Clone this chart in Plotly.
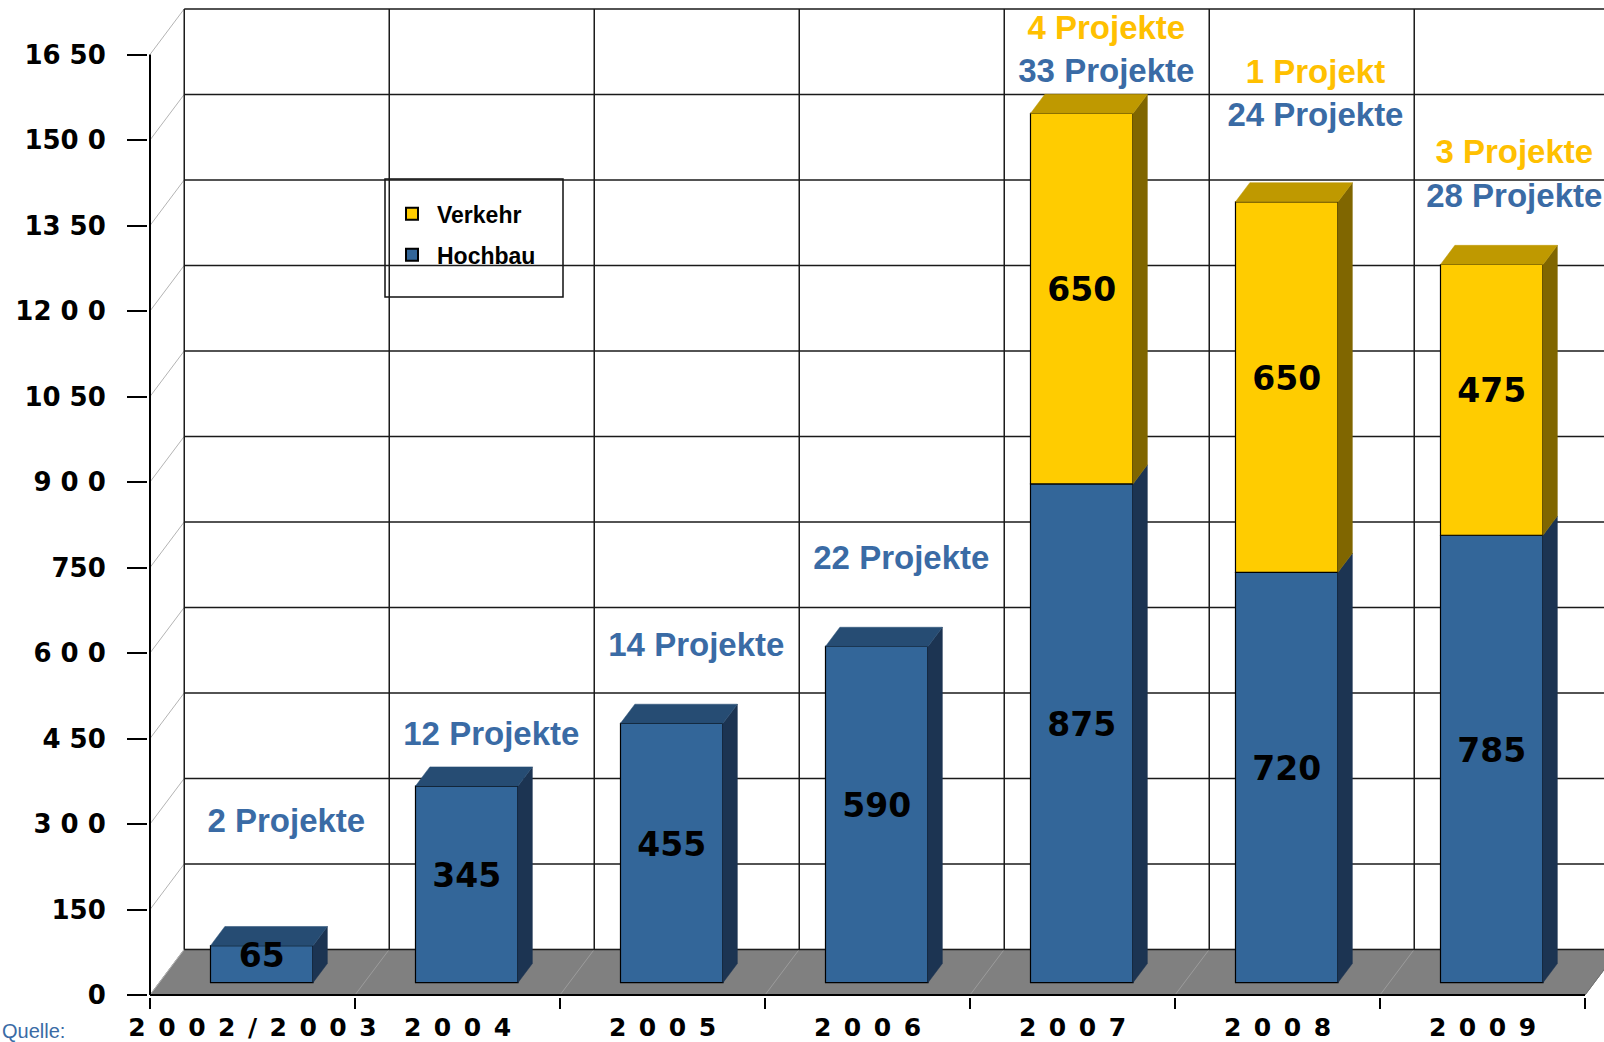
import plotly.graph_objects as go

# ---------------- data ----------------
CATEGORIES = ["2002/2003", "2004", "2005", "2006", "2007", "2008", "2009"]
HOCHBAU = [65, 345, 455, 590, 875, 720, 785]
VERKEHR = [0, 0, 0, 0, 650, 650, 475]
HOCHBAU_PROJEKTE = ["2 Projekte", "12 Projekte", "14 Projekte", "22 Projekte",
                    "33 Projekte", "24 Projekte", "28 Projekte"]
VERKEHR_PROJEKTE = ["", "", "", "", "4 Projekte", "1 Projekt", "3 Projekte"]
Y_TICK_VALUES = [0, 150, 300, 450, 600, 750, 900, 1050, 1200, 1350, 1500, 1650]
Y_TICK_LABELS = ["0", "150", "3 0 0", "4 50", "6 0 0", "750", "9 0 0",
                 "10 50", "12 0 0", "13 50", "150 0", "16 50"]

# label placement (value units on the front plane)
HB_LABEL_Y = [300, 453, 609, 761, 1616, 1539, 1397]
VK_LABEL_Y = [None, None, None, None, 1691, 1614, 1474]
LABEL_DX = [0.165, 0.165, 0.165, 0.165, 0.165, 0.185, 0.155]

# ---------------- styling / geometry ----------------
W, H = 1604, 1042
ML, MB = 148, 45
PX_PER_CAT = 205.0
PX_PER_UNIT = 0.570
X_FRONT_PX = 150
ZERO_PX = 995

DX, DY = 0.167, 80.0      # oblique depth offset (category units, value units)
FD, BD, BW = 0.27, 0.42, 0.5  # bar front depth, bar depth, bar width

HB_FRONT, HB_TOP, HB_SIDE = "#336699", "#264C73", "#1C3452"
VK_FRONT, VK_TOP, VK_SIDE = "#FFCC00", "#BF9900", "#806600"
BLUE_TXT, YELLOW_TXT = "#3A6BA5", "#FFC000"
LBL_FONT = "Liberation Sans, Arial"

# legend box (pixels)
LEG_X0, LEG_X1, LEG_Y0, LEG_Y1 = 385, 563, 179, 297

n = len(CATEGORIES)
x_start = -0.5 - (X_FRONT_PX - ML) / PX_PER_CAT
x_end = x_start + (W - ML) / PX_PER_CAT
y_start = -((H - MB) - ZERO_PX) / PX_PER_UNIT
y_end = y_start + (H - MB) / PX_PER_UNIT
left, right = -0.5, n - 0.5
boundaries = [i - 0.5 for i in range(n + 1)]
top_val = Y_TICK_VALUES[-1]
PW, PH = W - ML, H - MB


def px_x(p):
    return (p - ML) / PW


def px_y(p):
    return 1 - p / PH


fig = go.Figure()

# ---------------- floor and walls (shapes below traces) ----------------
shapes = []
shapes.append(dict(type="path", xref="x", yref="y", layer="below",
                   path=f"M {left},0 L {right},0 L {right + DX},{DY} L {left + DX},{DY} Z",
                   fillcolor="#808080", line=dict(color="#808080", width=1)))
for b in boundaries[1:-1]:
    shapes.append(dict(type="line", xref="x", yref="y", layer="below",
                       x0=b, y0=0, x1=b + DX, y1=DY, line=dict(color="#9C9C9C", width=1)))
for v in Y_TICK_VALUES:
    shapes.append(dict(type="line", xref="x", yref="y", layer="below",
                       x0=left, y0=v, x1=left + DX, y1=v + DY,
                       line=dict(color="#B4B4B4", width=1)))
for v in Y_TICK_VALUES:
    shapes.append(dict(type="line", xref="x", yref="y", layer="below",
                       x0=left + DX, y0=v + DY, x1=x_end + 1, y1=v + DY,
                       line=dict(color="#1A1A1A", width=1.5)))
for b in boundaries:
    shapes.append(dict(type="line", xref="x", yref="y", layer="below",
                       x0=b + DX, y0=DY, x1=b + DX, y1=top_val + DY,
                       line=dict(color="#1A1A1A", width=1.5)))
shapes.append(dict(type="line", xref="x", yref="y", layer="below",
                   x0=right, y0=0, x1=right + DX, y1=DY, line=dict(color="#707070", width=1)))
shapes.append(dict(type="line", xref="x", yref="y", layer="below",
                   x0=left, y0=0, x1=right, y1=0, line=dict(color="black", width=2)))
shapes.append(dict(type="line", xref="x", yref="y", layer="below",
                   x0=left, y0=0, x1=left, y1=top_val, line=dict(color="black", width=2)))
# legend frame
shapes.append(dict(type="rect", xref="paper", yref="paper", layer="below",
                   x0=px_x(LEG_X0), x1=px_x(LEG_X1), y0=px_y(LEG_Y1), y1=px_y(LEG_Y0),
                   fillcolor="white", line=dict(color="#111111", width=1.5)))

# ---------------- bars ----------------
fx = FD * DX
fy = FD * DY
bx, by = BD * DX, BD * DY
hb_x = [i + fx for i in range(n)]
vk_idx = [i for i in range(n) if VERKEHR[i] > 0]

fig.add_trace(go.Bar(x=hb_x, y=HOCHBAU, base=[fy] * n, width=BW,
                     marker=dict(color=HB_FRONT, line=dict(color="black", width=1.2)),
                     showlegend=False, hoverinfo="skip", name="Hochbau"))
fig.add_trace(go.Bar(x=[hb_x[i] for i in vk_idx], y=[VERKEHR[i] for i in vk_idx],
                     base=[HOCHBAU[i] + fy for i in vk_idx], width=BW,
                     marker=dict(color=VK_FRONT, line=dict(color="black", width=1.2)),
                     showlegend=False, hoverinfo="skip", name="Verkehr"))


def poly_trace(xs, ys, color):
    return go.Scatter(x=xs, y=ys, mode="lines", fill="toself", fillcolor=color,
                      line=dict(color=color, width=0.5), showlegend=False, hoverinfo="skip")


for i in range(n):
    segs = [(0, HOCHBAU[i], HB_SIDE, HB_TOP)]
    if VERKEHR[i] > 0:
        segs.append((HOCHBAU[i], HOCHBAU[i] + VERKEHR[i], VK_SIDE, VK_TOP))
    xl, xr = hb_x[i] - BW / 2, hb_x[i] + BW / 2
    for k, (b0, t0, side_c, top_c) in enumerate(segs):
        fig.add_trace(poly_trace(
            [xr, xr + bx, xr + bx, xr, xr],
            [b0 + fy, b0 + fy + by, t0 + fy + by, t0 + fy, b0 + fy], side_c))
        if k == len(segs) - 1:
            fig.add_trace(poly_trace(
                [xl, xr, xr + bx, xl + bx, xl],
                [t0 + fy, t0 + fy, t0 + fy + by, t0 + fy + by, t0 + fy], top_c))

# value labels
fig.add_trace(go.Scatter(
    x=hb_x, y=[fy + h / 2 + 10 for h in HOCHBAU], text=[str(h) for h in HOCHBAU],
    mode="text", textposition="middle center", cliponaxis=False,
    textfont=dict(family="DejaVu Sans", size=33, color="black", weight="bold"),
    showlegend=False, hoverinfo="skip"))
fig.add_trace(go.Scatter(
    x=[hb_x[i] for i in vk_idx], y=[fy + HOCHBAU[i] + VERKEHR[i] / 2 + 10 for i in vk_idx],
    text=[str(VERKEHR[i]) for i in vk_idx],
    mode="text", textposition="middle center", cliponaxis=False,
    textfont=dict(family="DejaVu Sans", size=33, color="black", weight="bold"),
    showlegend=False, hoverinfo="skip"))

# project labels
fig.add_trace(go.Scatter(
    x=[i + LABEL_DX[i] for i in range(n)], y=HB_LABEL_Y, text=HOCHBAU_PROJEKTE,
    mode="text", textposition="middle center", cliponaxis=False,
    textfont=dict(family=LBL_FONT, size=33, color=BLUE_TXT, weight="bold"),
    showlegend=False, hoverinfo="skip"))
fig.add_trace(go.Scatter(
    x=[i + LABEL_DX[i] for i in vk_idx], y=[VK_LABEL_Y[i] for i in vk_idx],
    text=[VERKEHR_PROJEKTE[i] for i in vk_idx],
    mode="text", textposition="middle center", cliponaxis=False,
    textfont=dict(family=LBL_FONT, size=33, color=YELLOW_TXT, weight="bold"),
    showlegend=False, hoverinfo="skip"))

# legend entries
fig.add_trace(go.Scatter(x=[None], y=[None], mode="markers", name="Verkehr", legendgroup="v",
                         marker=dict(symbol="square", size=14, color=VK_FRONT,
                                     line=dict(color="black", width=1))))
fig.add_trace(go.Scatter(x=[None], y=[None], mode="markers", name="Hochbau", legendgroup="h",
                         marker=dict(symbol="square", size=14, color=HB_FRONT,
                                     line=dict(color="black", width=1))))
# anchor trace for category label axis
fig.add_trace(go.Scatter(x=[None], y=[None], xaxis="x2", showlegend=False, hoverinfo="skip"))

spaced = ["\u2002".join(list(c)) for c in CATEGORIES]

fig.update_layout(
    width=W, height=H,
    margin=dict(l=ML, r=0, t=0, b=MB),
    paper_bgcolor="white", plot_bgcolor="white",
    barmode="overlay",
    shapes=shapes,
    xaxis=dict(range=[x_start, x_end], tickvals=boundaries, ticks="outside", ticklen=11,
               tickwidth=2, tickcolor="black", showticklabels=False, showgrid=False,
               zeroline=False, showline=False, fixedrange=True),
    xaxis2=dict(range=[x_start, x_end], overlaying="x", anchor="y", side="bottom",
                tickvals=list(range(n)), ticktext=spaced, ticks="", showgrid=False,
                zeroline=False, showline=False, ticklabelstandoff=13,
                tickfont=dict(family="DejaVu Sans", size=25, color="black", weight="bold")),
    yaxis=dict(range=[y_start, y_end], tickvals=Y_TICK_VALUES, ticktext=Y_TICK_LABELS,
               ticks="outside", ticklen=20, tickwidth=2, tickcolor="black",
               showgrid=False, zeroline=False, showline=False, ticklabelstandoff=16,
               tickfont=dict(family="DejaVu Sans", size=26, color="black", weight="bold")),
    legend=dict(x=px_x(LEG_X0 + 2), y=px_y(LEG_Y0 + 3), xanchor="left", yanchor="top",
                bgcolor="rgba(0,0,0,0)", borderwidth=0,
                font=dict(family="Liberation Sans, Arial", size=23, color="black", weight="bold"),
                title=dict(text="\u00a0", font=dict(size=8)),
                traceorder="grouped", tracegroupgap=8, itemsizing="constant", itemwidth=40),
    annotations=[dict(text="Quelle:", xref="paper", yref="paper",
                      x=px_x(0), y=px_y(1031),
                      xanchor="left", yanchor="middle", showarrow=False,
                      font=dict(family="Liberation Sans Narrow, Liberation Sans", size=20,
                                color=BLUE_TXT))],
)

fig.write_html("out.html", config={"displayModeBar": False},
               post_script="document.body.style.margin='0';document.body.style.overflow='hidden';")
